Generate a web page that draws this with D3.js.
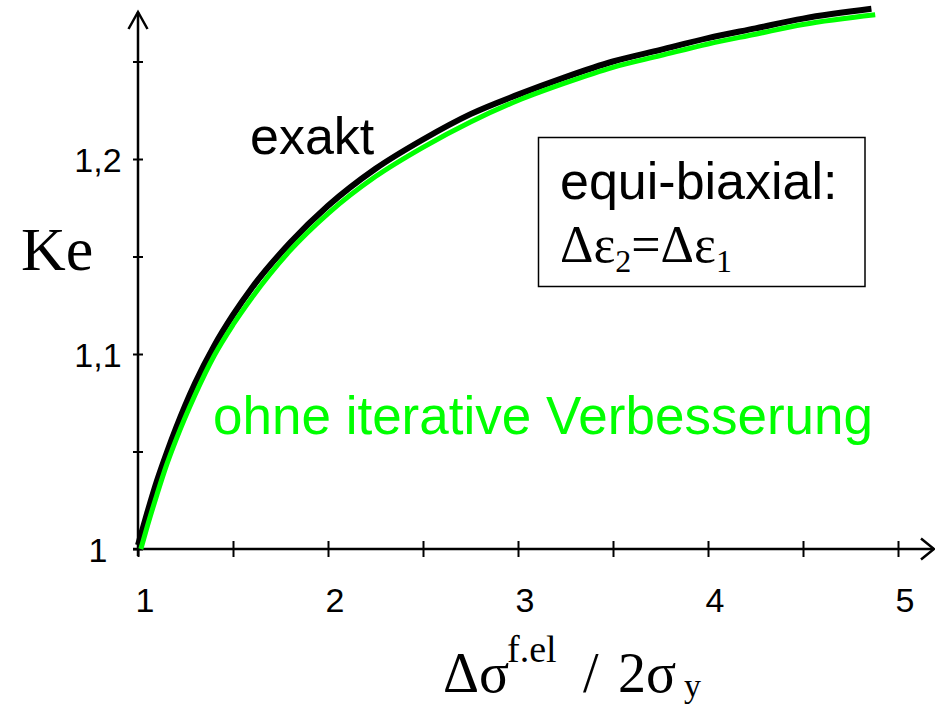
<!DOCTYPE html>
<html>
<head>
<meta charset="utf-8">
<script src="https://cdn.jsdelivr.net/npm/d3@7"></script>
<style>
  html, body { margin: 0; padding: 0; background: #fff; }
  svg { display: block; }
  .sans { font-family: "Liberation Sans", Arial, Helvetica, sans-serif; }
  .serif { font-family: "Liberation Serif", "Times New Roman", Times, serif; }
</style>
</head>
<body>
<svg id="chart" width="935" height="705"></svg>
<script>
// Ke over the normalised fictitious elastic stress range, equi-biaxial case
const xExact = [1.0, 1.05, 1.1, 1.15, 1.2, 1.3, 1.4, 1.5, 1.6, 1.8, 2.0, 2.25, 2.5, 2.75, 3.0, 3.25, 3.5, 3.75, 4.0, 4.25, 4.5, 4.86];
const keExact = [1.002, 1.019, 1.035, 1.049, 1.062, 1.085, 1.104, 1.120, 1.134, 1.157, 1.176, 1.195, 1.210, 1.223, 1.233, 1.242, 1.250, 1.256, 1.262, 1.267, 1.272, 1.277];

const xSimple = [1.015, 1.05, 1.1, 1.15, 1.2, 1.3, 1.4, 1.5, 1.6, 1.8, 2.0, 2.25, 2.5, 2.75, 3.0, 3.25, 3.5, 3.75, 4.0, 4.25, 4.5, 4.88];
const keSimple = [1.000, 1.012, 1.028, 1.043, 1.056, 1.079, 1.099, 1.115, 1.129, 1.153, 1.172, 1.191, 1.206, 1.219, 1.230, 1.239, 1.247, 1.253, 1.259, 1.264, 1.269, 1.274];

const xTicks = [1, 1.5, 2, 2.5, 3, 3.5, 4, 4.5, 5];
const xTickLabels = [1, 2, 3, 4, 5];
const yTicks = [1, 1.05, 1.1, 1.15, 1.2, 1.25];
const yTickLabels = [[1, "1"], [1.1, "1,1"], [1.2, "1,2"]];

const svg = d3.select("#chart");

const x = d3.scaleLinear().domain([1, 5]).range([138, 898]);
const y = d3.scaleLinear().domain([1, 1.2]).range([549, 159]);

// x axis: ticks crossing the line, open arrow at the end
const gx = svg.append("g").attr("transform", `translate(0,${y(1)})`)
  .call(d3.axisBottom(x).tickValues(xTicks).tickFormat("").tickSizeOuter(0));
gx.select(".domain").remove();
gx.selectAll(".tick line").attr("y1", -8).attr("y2", 8)
  .attr("stroke", "#000").attr("stroke-width", 2);

svg.append("line").attr("x1", 133).attr("x2", 934)
  .attr("y1", y(1)).attr("y2", y(1)).attr("stroke", "#000").attr("stroke-width", 2.5);
svg.append("path")
  .attr("d", `M921,${y(1) - 10.5}L934,${y(1)}L921,${y(1) + 10.5}`)
  .attr("fill", "none").attr("stroke", "#000").attr("stroke-width", 2.5);

// y axis
const gy = svg.append("g").attr("transform", `translate(${x(1)},0)`)
  .call(d3.axisLeft(y).tickValues(yTicks).tickFormat("").tickSizeOuter(0));
gy.select(".domain").remove();
gy.selectAll(".tick line").attr("x1", -5).attr("x2", 5)
  .attr("stroke", "#000").attr("stroke-width", 2);

svg.append("line").attr("x1", x(1)).attr("x2", x(1))
  .attr("y1", 556).attr("y2", 12).attr("stroke", "#000").attr("stroke-width", 2.5);
svg.append("path")
  .attr("d", `M${x(1) - 9.5},29L${x(1)},12L${x(1) + 9.5},29`)
  .attr("fill", "none").attr("stroke", "#000").attr("stroke-width", 2.5);

// tick labels
svg.append("g").selectAll("text").data(xTickLabels).join("text")
  .attr("class", "sans")
  .attr("x", d => x(d) + 7).attr("y", 612)
  .attr("text-anchor", "middle").attr("font-size", 34).attr("fill", "#000")
  .text(d => d);

svg.append("g").selectAll("text").data(yTickLabels).join("text")
  .attr("class", "sans")
  .attr("x", 98).attr("y", d => y(d[0]) + 13)
  .attr("text-anchor", "middle").attr("font-size", 34).attr("fill", "#000")
  .text(d => d[1]);

// curves
const line = d3.line().x(d => x(d[0])).y(d => y(d[1])).curve(d3.curveMonotoneX);

svg.append("path").datum(d3.zip(xExact, keExact))
  .attr("d", line).attr("fill", "none").attr("stroke", "#000").attr("stroke-width", 6);
svg.append("path").datum(d3.zip(xSimple, keSimple))
  .attr("d", line).attr("fill", "none").attr("stroke", "#00ff00").attr("stroke-width", 5);

// annotations
svg.append("text").attr("class", "sans").attr("x", 250).attr("y", 154)
  .attr("font-size", 52).attr("fill", "#000").text("exakt");

svg.append("text").attr("class", "sans").attr("x", 213).attr("y", 434)
  .attr("font-size", 53).attr("fill", "#00ff00").text("ohne iterative Verbesserung");

// case box
svg.append("rect").attr("x", 538.5).attr("y", 137.5).attr("width", 326.5).attr("height", 149)
  .attr("fill", "none").attr("stroke", "#000").attr("stroke-width", 1.5);
svg.append("text").attr("class", "sans").attr("x", 560).attr("y", 199)
  .attr("font-size", 52).attr("fill", "#000").text("equi-biaxial:");

const strain = svg.append("text").attr("class", "serif").attr("x", 560).attr("y", 262)
  .attr("font-size", 52).attr("fill", "#000");
strain.append("tspan").text("Δε");
strain.append("tspan").attr("font-size", 32).attr("dy", 10).text("2");
strain.append("tspan").attr("dy", -10).text("=Δε");
strain.append("tspan").attr("font-size", 32).attr("dy", 10).text("1");

// axis titles
svg.append("text").attr("class", "serif").attr("x", 21).attr("y", 270)
  .attr("font-size", 62).attr("fill", "#000").text("Ke");

const xt = svg.append("text").attr("class", "serif").attr("y", 692)
  .attr("font-size", 56).attr("fill", "#000");
xt.append("tspan").attr("x", 443).text("Δσ");
xt.append("tspan").attr("x", 507).attr("font-size", 38).attr("dy", -30).text("f.el");
xt.append("tspan").attr("x", 583).attr("dy", 30).text("/");
xt.append("tspan").attr("x", 618).text("2σ");
xt.append("tspan").attr("x", 684).attr("font-size", 34).attr("dy", 5).text("y");
</script>
</body>
</html>
